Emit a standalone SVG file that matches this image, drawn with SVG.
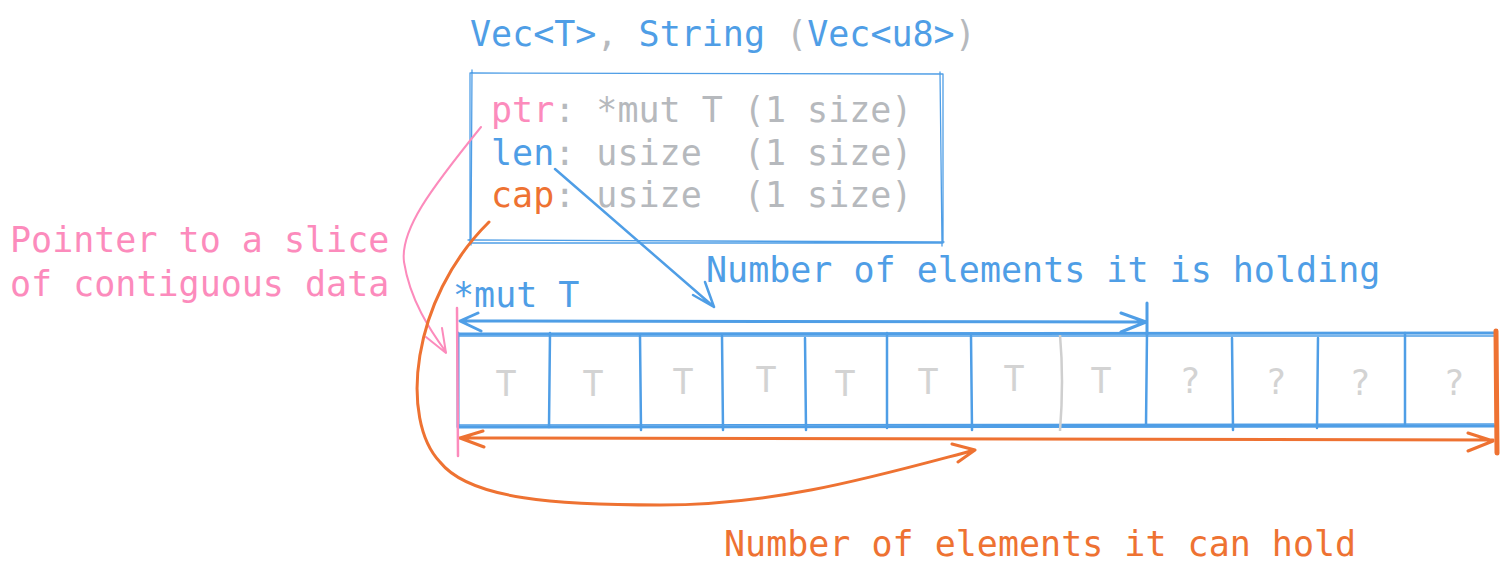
<svg xmlns="http://www.w3.org/2000/svg" width="1509" height="574" viewBox="0 0 1509 574">
<style>
text{font-family:"DejaVu Sans Mono","Liberation Mono",monospace;font-size:35px;white-space:pre}
.b{fill:#4f9ee6}.p{fill:#fc8bbc}.o{fill:#ee7232}.g{fill:#b6b9bd}.t{fill:#d3d3d3;text-anchor:middle}
.sb{stroke:#4f9ee6;fill:none;stroke-linecap:round;stroke-linejoin:round}
.so{stroke:#ee7232;fill:none;stroke-linecap:round;stroke-linejoin:round}
.sp{stroke:#fc8bbc;fill:none;stroke-linecap:round;stroke-linejoin:round}
</style>
<g id="title"><text x="470" y="46"><tspan class="b">Vec&lt;T&gt;</tspan><tspan class="g">,</tspan><tspan class="b"> String </tspan><tspan class="g">(</tspan><tspan class="b">Vec&lt;u8&gt;</tspan><tspan class="g">)</tspan></text></g>
<g id="struct">
<path class="sb" stroke-width="1.3" d="M470,73 L943,74 L943,243 L470,243 Z M472,70 L471,245 M468,240 L944,242 M940,72 L942,246"/>
<text x="491" y="122" xml:space="preserve"><tspan class="p">ptr</tspan><tspan class="g">: *mut T (1 size)</tspan></text>
<text x="491" y="165" xml:space="preserve"><tspan class="b">len</tspan><tspan class="g">: usize  (1 size)</tspan></text>
<text x="491" y="207" xml:space="preserve"><tspan class="o">cap</tspan><tspan class="g">: usize  (1 size)</tspan></text>
</g>
<g id="ptr-label"><text class="p" x="10" y="252">Pointer to a slice</text><text class="p" x="10" y="296">of contiguous data</text></g>
<g id="mut-label"><text class="b" x="453" y="307">*mut T</text></g>
<g id="len-label"><text class="b" x="706" y="282">Number of elements it is holding</text></g>
<g id="cap-label"><text class="o" x="724" y="556">Number of elements it can hold</text></g>
<g id="array">
<path class="sb" stroke-width="3" d="M458,334 L1496,333 M458,427 L1496,426 M458,333 L458,427"/>
<path class="sb" stroke-width="1.5" d="M458,336 L1494,336 M458,425 L1494,424"/>
<path class="sb" stroke-width="2.5" d="M550,333 L549,427 M640,336 L641,430 M722,336 L723,430 M805,338 L806,430 M887,333 L887,428 M971,336 L972,430 M1147,333 L1146,425 M1232,338 L1233,430 M1318,338 L1317,428 M1405,333 L1405,425"/>
<path stroke="#cfcfcf" stroke-width="2.5" fill="none" d="M1060,335 Q1064,380 1060,431"/>
<g class="t">
<text x="506" y="396">T</text><text x="593" y="396">T</text><text x="683" y="394">T</text><text x="766" y="392">T</text><text x="845" y="396">T</text><text x="928" y="394">T</text><text x="1014" y="391">T</text><text x="1101" y="393">T</text>
<text x="1190" y="393">?</text><text x="1276" y="394">?</text><text x="1360" y="395">?</text><text x="1454" y="395">?</text>
</g>
</g>
<g id="connectors">
<path class="sb" stroke-width="3" d="M460,321 L1146,322 M478,313 L460,321 L481,331 M1121,313 L1146,322 L1121,332 M1147,303 L1147,334"/>
<path class="so" stroke-width="3" d="M459,438 L1493,440 M483,431 L460,438 L484,447 M1468,433 L1493,441 L1468,451"/>
<path class="so" stroke-width="5" d="M1496,331 L1497,453"/>
<path class="sp" stroke-width="2.5" d="M457,308 L458,456"/>
<path class="sp" stroke-width="2" d="M481,127 C430,190 400,230 404,262 C410,300 430,330 446,352 M426,337 L446,353 L442,328"/>
<path class="sb" stroke-width="2.5" d="M555,169 L714,307 M693,295 L714,307 L705,282"/>
<path class="so" stroke-width="3" d="M489,222 C410,300 400,420 440,462 C470,500 560,505 660,505 C780,505 880,475 975,450 M952,444 L975,450 L958,462"/>
</g>
</svg>
